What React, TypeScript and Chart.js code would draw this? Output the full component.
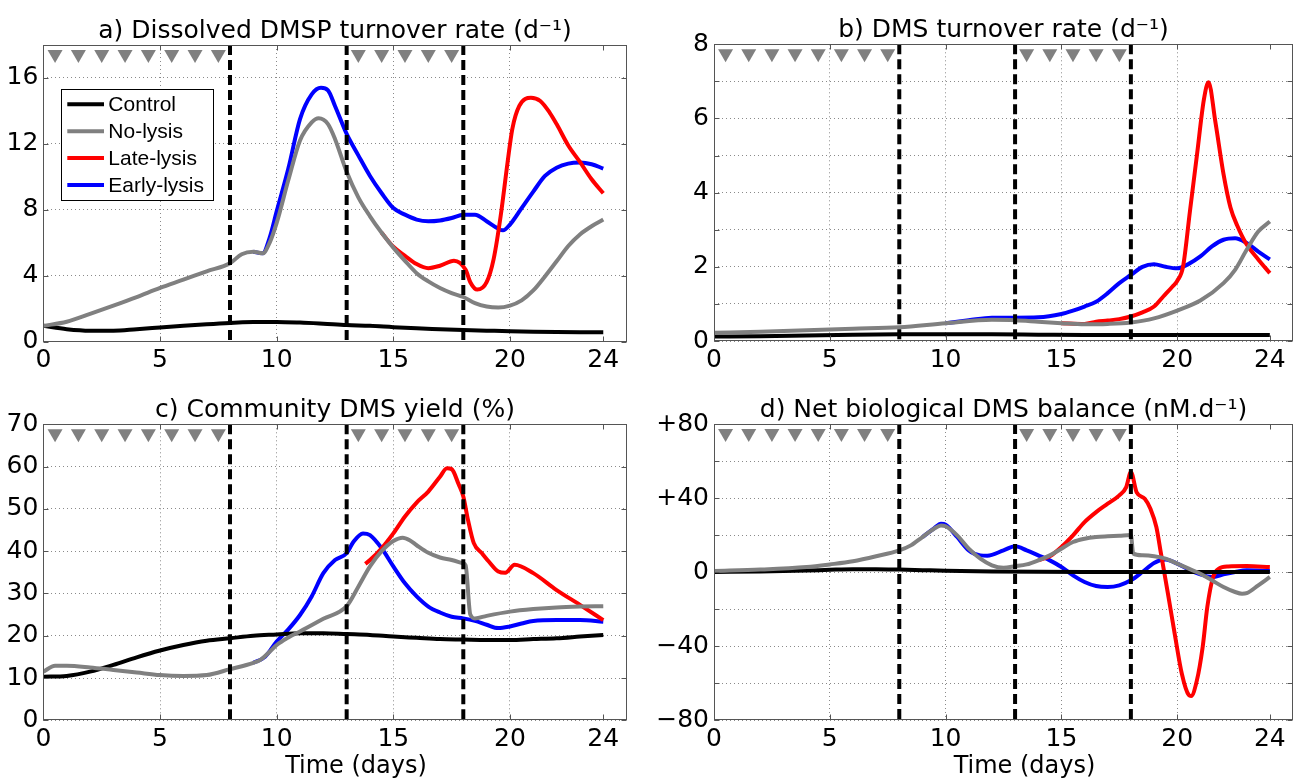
import React, { useEffect, useRef } from 'react';
import { Chart, registerables } from 'chart.js';

Chart.register(...registerables);

// ---------- shared ----------
const seriesNames = ['Control', 'No-lysis', 'Late-lysis', 'Early-lysis'];
const seriesColors = ['#000000', '#808080', '#ff0000', '#0000ff'];
const seriesOrder = [1, 0, 2, 3];
const eventDays = [8, 13, 18];
const additionDays = [0.5, 1.5, 2.5, 3.5, 4.5, 5.5, 6.5, 7.5, 13.5, 14.5, 15.5, 16.5, 17.5];
const xTickValues = [0, 5, 10, 15, 20, 24];

// ---------- panel a: dissolved DMSP turnover rate ----------
const aControlX = [0, 1, 2, 3, 4, 5, 6, 7, 8, 9, 10, 11, 12, 13, 14, 15, 16, 17, 18, 19, 20, 21, 22, 23, 24];
const aControlY = [0.95, 0.75, 0.66, 0.66, 0.75, 0.85, 0.95, 1.05, 1.13, 1.18, 1.19, 1.15, 1.08, 1.0, 0.95, 0.87, 0.8, 0.75, 0.7, 0.66, 0.62, 0.59, 0.57, 0.56, 0.56];
const aNoLysisX = [0, 1, 2, 3, 4, 5, 6, 7, 8, 8.5, 9, 9.4, 9.7, 10, 10.5, 11, 11.5, 11.8, 12.2, 12.5, 13, 13.5, 14, 14.5, 15, 15.5, 16, 16.5, 17, 17.5, 18, 18.5, 19, 19.5, 20, 20.5, 21, 21.5, 22, 22.5, 23, 23.5, 24];
const aNoLysisY = [0.95, 1.2, 1.68, 2.18, 2.7, 3.25, 3.75, 4.26, 4.75, 5.3, 5.45, 5.35, 6.0, 7.2, 9.8, 12.2, 13.3, 13.55, 13.2, 12.3, 10.3, 8.75, 7.6, 6.6, 5.7, 4.9, 4.15, 3.65, 3.25, 2.94, 2.7, 2.33, 2.12, 2.06, 2.18, 2.5, 3.1, 3.95, 4.87, 5.8, 6.5, 7.0, 7.4];
const aLateX = [14.5, 15, 15.5, 16, 16.5, 17, 17.6, 18.1, 18.3, 18.6, 19, 19.3, 19.6, 19.9, 20.1, 20.4, 20.9, 21.3, 21.7, 22, 22.5, 23, 23.5, 24];
const aLateY = [6.6, 5.75, 5.2, 4.7, 4.45, 4.6, 4.9, 4.35, 3.6, 3.15, 3.6, 5.0, 7.6, 10.9, 12.9, 14.3, 14.8, 14.6, 13.9, 13.2, 11.9, 10.9, 9.85, 9.0];
const aEarlyX = [9, 9.4, 9.7, 10, 10.5, 11, 11.5, 11.9, 12.2, 12.5, 13, 13.5, 14, 14.5, 15, 15.5, 16, 16.5, 17, 17.5, 18, 18.5, 19, 19.5, 19.7, 20, 20.5, 21, 21.5, 22, 22.5, 23, 23.5, 24];
const aEarlyY = [5.45, 5.35, 6.3, 7.9, 10.5, 13.5, 15.0, 15.4, 15.25, 14.3, 12.6, 11.3, 10.05, 9.0, 8.1, 7.7, 7.4, 7.3, 7.35, 7.5, 7.7, 7.7, 7.3, 6.85, 6.75, 7.1, 8.1, 9.1, 10.05, 10.55, 10.8, 10.86, 10.76, 10.5];

// ---------- panel b: DMS turnover rate ----------
const bControlX = [0, 2, 4, 6, 8, 10, 12, 14, 16, 18, 20, 22, 24];
const bControlY = [0.12, 0.13, 0.15, 0.17, 0.18, 0.18, 0.18, 0.17, 0.16, 0.16, 0.16, 0.16, 0.16];
const bNoLysisX = [0, 2, 4, 6, 8, 10, 12, 13, 14, 15, 16, 17, 18, 19, 20, 21, 22, 22.5, 23, 23.5, 24];
const bNoLysisY = [0.22, 0.25, 0.29, 0.33, 0.37, 0.48, 0.57, 0.56, 0.52, 0.48, 0.45, 0.46, 0.5, 0.61, 0.82, 1.09, 1.56, 1.92, 2.46, 2.95, 3.22];
const bLateX = [15, 16, 16.5, 17, 17.5, 18, 18.5, 19, 19.4, 19.8, 20, 20.25, 20.55, 20.85, 21.15, 21.35, 21.65, 22, 22.3, 22.6, 23, 23.5, 24];
const bLateY = [0.48, 0.46, 0.52, 0.55, 0.59, 0.66, 0.77, 0.93, 1.2, 1.47, 1.62, 2.0, 3.5, 5.0, 6.5, 6.98, 5.9, 4.5, 3.6, 3.1, 2.6, 2.2, 1.83];
const bEarlyX = [10, 11, 12, 13, 14, 15, 15.5, 16, 16.5, 17, 17.5, 18, 18.5, 19, 19.5, 20, 20.5, 21, 21.5, 22, 22.5, 23, 23.5, 24];
const bEarlyY = [0.48, 0.56, 0.63, 0.63, 0.64, 0.73, 0.82, 0.93, 1.06, 1.29, 1.56, 1.78, 2.0, 2.07, 2.0, 1.96, 2.08, 2.28, 2.55, 2.73, 2.77, 2.64, 2.41, 2.2];

// ---------- panel c: community DMS yield ----------
const cControlX = [0, 1, 2, 3, 4, 5, 6, 7, 8, 9, 10, 11, 12, 13, 14, 15, 16, 17, 18, 19, 20, 21, 22, 23, 24];
const cControlY = [10.3, 10.5, 11.5, 13.1, 14.9, 16.5, 17.8, 18.8, 19.4, 20.0, 20.3, 20.6, 20.6, 20.4, 20.2, 19.8, 19.5, 19.2, 19.1, 19.0, 19.0, 19.2, 19.4, 19.8, 20.2];
const cNoLysisX = [0, 0.5, 1, 2, 3, 4, 5, 6, 7, 8, 9, 9.3, 9.7, 10, 10.5, 11, 12, 13, 13.5, 14, 14.5, 15, 15.4, 15.7, 16, 16.5, 17, 17.5, 18, 18.1, 18.3, 18.5, 19, 20, 21, 22, 23, 24];
const cNoLysisY = [11.5, 12.9, 12.9, 12.5, 11.9, 11.3, 10.7, 10.5, 10.7, 12.1, 13.6, 14.3, 16.2, 17.8, 19.6, 21.0, 24.0, 27.0, 31.6, 36.4, 40.0, 42.4, 43.2, 42.6, 41.4, 39.6, 38.5, 37.9, 37.1, 36.6, 25.0, 24.1, 24.7, 25.7, 26.3, 26.7, 26.9, 27.0];
const cLateX = [13.8, 14, 14.5, 15, 15.5, 16, 16.5, 17, 17.3, 17.5, 17.8, 18, 18.2, 18.45, 18.8, 19.1, 19.5, 19.8, 20.2, 21, 22, 23, 24];
const cLateY = [37.0, 37.9, 40.7, 44.2, 48.2, 51.5, 54.1, 57.6, 59.6, 59.4, 55.8, 52.9, 47.4, 41.9, 39.5, 37.5, 35.2, 34.9, 36.8, 34.8, 30.8, 27.3, 23.7];
const cEarlyX = [9, 9.5, 10, 10.5, 11, 11.5, 12, 12.5, 13, 13.3, 13.7, 14, 14.5, 15, 15.5, 16, 16.5, 17, 17.5, 18, 18.5, 19, 19.5, 20, 20.5, 21, 22, 23, 24];
const cEarlyY = [13.6, 15.0, 18.6, 21.5, 24.9, 29.3, 34.8, 37.9, 39.5, 42.3, 44.2, 43.8, 40.7, 36.4, 32.4, 29.3, 26.9, 25.5, 24.5, 24.1, 23.5, 22.6, 21.8, 22.2, 22.9, 23.5, 23.7, 23.7, 23.3];

// ---------- panel d: net biological DMS balance ----------
const dControlX = [0, 2, 4, 5, 6, 7, 8, 9, 10, 12, 14, 16, 18, 20, 22, 24];
const dControlY = [0, 0.3, 0.8, 1.2, 1.5, 1.5, 1.3, 1.0, 0.7, 0.3, 0.1, 0, 0, 0, 0, 0];
const dNoLysisX = [0, 2, 4, 5, 6, 7, 8, 8.5, 9, 9.5, 9.8, 10, 10.5, 11, 11.5, 12, 12.5, 13, 13.5, 14, 14.5, 15, 15.5, 16, 16.5, 17, 17.5, 18, 18.1, 18.5, 19, 19.5, 20, 20.5, 21, 21.5, 22, 22.5, 22.8, 23, 23.5, 24];
const dNoLysisY = [0.5, 1.3, 2.7, 4.1, 5.8, 8.5, 11.7, 14.4, 18.9, 23.4, 25.2, 24.7, 19.8, 12.6, 7.2, 3.6, 2.3, 3.1, 4.1, 6.3, 9.0, 12.6, 16.2, 18.0, 18.9, 19.3, 19.6, 20.0, 10.0, 9.0, 8.5, 7.2, 4.5, 1.8, -0.9, -4.5, -8.1, -10.8, -11.7, -11.4, -7.2, -2.7];
const dLateX = [14, 14.5, 15, 15.5, 16, 16.5, 17, 17.5, 17.8, 18, 18.25, 18.6, 18.85, 19.1, 19.3, 19.6, 19.9, 20.2, 20.5, 20.6, 20.85, 21.1, 21.3, 21.55, 21.8, 22.2, 23, 24];
const dLateY = [6.3, 8.5, 13.5, 19.8, 27.0, 32.4, 36.9, 41.4, 45.9, 54.0, 43.0, 39.6, 34.0, 24.3, 9.9, -11.7, -34.0, -55.0, -66.5, -67.0, -58.6, -40.5, -18.9, -2.7, 1.8, 3.0, 3.2, 2.7];
const dEarlyX = [9, 9.5, 9.8, 10, 10.5, 11, 11.5, 11.8, 12.5, 13, 13.5, 14, 14.5, 15, 15.5, 16, 16.5, 17, 17.5, 18, 18.5, 19, 19.5, 20, 20.5, 21, 21.5, 22, 22.5, 23, 24];
const dEarlyY = [18.9, 23.6, 26.1, 25.6, 18.9, 11.7, 9.0, 8.8, 11.7, 13.9, 11.7, 9.0, 6.3, 2.7, -1.8, -5.4, -7.6, -8.1, -7.2, -4.5, 0, 4.9, 6.7, 4.5, 1.3, -1.3, -2.7, -1.3, 0, 0.9, 0.5];

// ---------- helpers ----------
const FONT = '"DejaVu Sans", Verdana, sans-serif';
const LEGEND_FONT = '"Liberation Sans", Arial, sans-serif';

function pts(xs: number[], ys: number[]) {
  return xs.map((x, i) => ({ x, y: ys[i] }));
}

type PanelSpec = {
  id: string;
  left: number; top: number; width: number; height: number;
  title: string;
  yMin: number; yMax: number; yStep: number;
  yLabel: (v: number) => string;
  yAxisWidth: number; padRight: number; padTop: number; xAxisHeight: number;
  legend: boolean; xTitle: boolean;
  data: { x: number[]; y: number[] }[]; // order: Control, No-lysis, Late, Early
};

const signed = (v: number) => (v === 0 ? '0' : v > 0 ? '+' + v : '\u2212' + Math.abs(v));

const panels: PanelSpec[] = [
  {
    id: 'a', left: 0, top: 0, width: 647, height: 380,
    title: 'a) Dissolved DMSP turnover rate (d\u207B\u00B9)',
    yMin: 0, yMax: 18, yStep: 2, yLabel: (v) => (v % 4 === 0 ? String(v) : ''),
    yAxisWidth: 43.4, padRight: 20.4, padTop: 45, xAxisHeight: 38.5, legend: true, xTitle: false,
    data: [
      { x: aControlX, y: aControlY }, { x: aNoLysisX, y: aNoLysisY },
      { x: aLateX, y: aLateY }, { x: aEarlyX, y: aEarlyY },
    ],
  },
  {
    id: 'b', left: 647, top: 0, width: 647, height: 380,
    title: 'b) DMS turnover rate (d\u207B\u00B9)',
    yMin: 0, yMax: 8, yStep: 1, yLabel: (v) => (v % 2 === 0 ? String(v) : ''),
    yAxisWidth: 67, padRight: 1, padTop: 44.3, xAxisHeight: 39, legend: false, xTitle: false,
    data: [
      { x: bControlX, y: bControlY }, { x: bNoLysisX, y: bNoLysisY },
      { x: bLateX, y: bLateY }, { x: bEarlyX, y: bEarlyY },
    ],
  },
  {
    id: 'c', left: 0, top: 380, width: 647, height: 400,
    title: 'c) Community DMS yield (%)',
    yMin: 0, yMax: 70, yStep: 10, yLabel: (v) => String(v),
    yAxisWidth: 43.4, padRight: 20.4, padTop: 44.3, xAxisHeight: 59.7, legend: false, xTitle: true,
    data: [
      { x: cControlX, y: cControlY }, { x: cNoLysisX, y: cNoLysisY },
      { x: cLateX, y: cLateY }, { x: cEarlyX, y: cEarlyY },
    ],
  },
  {
    id: 'd', left: 647, top: 380, width: 647, height: 400,
    title: 'd) Net biological DMS balance (nM.d\u207B\u00B9)',
    yMin: -80, yMax: 80, yStep: 20, yLabel: (v) => (v % 40 === 0 ? signed(v) : ''),
    yAxisWidth: 67, padRight: 1, padTop: 44, xAxisHeight: 60, legend: false, xTitle: true,
    data: [
      { x: dControlX, y: dControlY }, { x: dNoLysisX, y: dNoLysisY },
      { x: dLateX, y: dLateY }, { x: dEarlyX, y: dEarlyY },
    ],
  },
];

function makeDecor(spec: PanelSpec) {
  return {
    id: 'decor_' + spec.id,
    afterDatasetsDraw(chart: any) {
      const { ctx, chartArea: ca, scales } = chart;
      const x = scales.x;
      const y = scales.y;
      // dashed event lines
      ctx.save();
      ctx.beginPath();
      ctx.rect(ca.left, ca.top, ca.right - ca.left, ca.bottom - ca.top);
      ctx.clip();
      ctx.strokeStyle = '#000';
      ctx.lineWidth = 4;
      ctx.setLineDash([10, 5]);
      for (const d of eventDays) {
        const px = x.getPixelForValue(d);
        ctx.beginPath();
        ctx.moveTo(px, ca.top);
        ctx.lineTo(px, ca.bottom);
        ctx.stroke();
      }
      ctx.restore();

      // addition markers (down triangles)
      ctx.save();
      ctx.fillStyle = '#808080';
      for (const d of additionDays) {
        const px = x.getPixelForValue(d);
        const t = ca.top + 5;
        ctx.beginPath();
        ctx.moveTo(px - 7.5, t);
        ctx.lineTo(px + 7.5, t);
        ctx.lineTo(px, t + 13);
        ctx.closePath();
        ctx.fill();
      }
      ctx.restore();

      // box + inward ticks
      ctx.save();
      ctx.strokeStyle = '#555';
      ctx.lineWidth = 1;
      const L = Math.round(ca.left) + 0.5, R = Math.round(ca.right) - 0.5;
      const T = Math.round(ca.top) + 0.5, B = Math.round(ca.bottom) - 0.5;
      ctx.strokeRect(L, T, R - L, B - T);
      ctx.beginPath();
      for (const tk of y.ticks) {
        const py = Math.round(y.getPixelForValue(tk.value)) + 0.5;
        ctx.moveTo(L, py); ctx.lineTo(L + 5, py);
        ctx.moveTo(R, py); ctx.lineTo(R - 5, py);
      }
      for (const v of xTickValues) {
        const px = Math.round(x.getPixelForValue(v)) + 0.5;
        ctx.moveTo(px, B); ctx.lineTo(px, B - 5);
        ctx.moveTo(px, T); ctx.lineTo(px, T + 5);
      }
      ctx.stroke();
      ctx.restore();

      // legend box
      if (spec.legend) {
        const bx = ca.left + 17.3, by = ca.top + 44.3, bw = 151.6, bh = 111.4;
        ctx.save();
        ctx.fillStyle = '#fff';
        ctx.fillRect(bx, by, bw, bh);
        ctx.strokeStyle = '#000';
        ctx.lineWidth = 1;
        ctx.strokeRect(Math.round(bx) + 0.5, Math.round(by) + 0.5, Math.round(bw), Math.round(bh));
        ctx.font = '21px ' + LEGEND_FONT;
        ctx.textBaseline = 'middle';
        ctx.textAlign = 'left';
        chart.data.datasets.forEach((ds: any, i: number) => {
          const ry = by + 15 + i * 26.9;
          ctx.strokeStyle = ds.borderColor;
          ctx.lineWidth = 4;
          ctx.beginPath();
          ctx.moveTo(bx + 6.6, ry);
          ctx.lineTo(bx + 43.3, ry);
          ctx.stroke();
          ctx.fillStyle = '#000';
          ctx.fillText(ds.label, bx + 47.6, ry + 1);
        });
        ctx.restore();
      }
    },
    afterDraw(chart: any) {
      const { ctx, chartArea: ca } = chart;
      ctx.save();
      ctx.fillStyle = '#000';
      ctx.font = '25px ' + FONT;
      ctx.textAlign = 'center';
      ctx.textBaseline = 'alphabetic';
      ctx.fillText(spec.title, (ca.left + ca.right) / 2, ca.top - 7);
      if (spec.xTitle) {
        ctx.font = '24px ' + FONT;
        ctx.fillText('Time (days)', (ca.left + ca.right) / 2 + 21, chart.height - 7);
      }
      ctx.restore();
    },
  };
}

function Panel({ spec }: { spec: PanelSpec }) {
  const ref = useRef<HTMLCanvasElement | null>(null);
  useEffect(() => {
    if (!ref.current) return;
    const datasets = spec.data.map((s, i) => ({
      label: seriesNames[i],
      data: pts(s.x, s.y),
      borderColor: seriesColors[i],
      backgroundColor: seriesColors[i],
      borderWidth: 4,
      pointRadius: 0,
      cubicInterpolationMode: 'monotone' as const,
      order: seriesOrder[i],
      fill: false,
    }));
    const chart = new Chart(ref.current, {
      type: 'line',
      data: { datasets },
      plugins: [makeDecor(spec)],
      options: {
        animation: false,
        responsive: false,
        maintainAspectRatio: false,
        events: [],
        layout: { padding: { left: 0, right: spec.padRight, top: spec.padTop, bottom: 0 } },
        plugins: { legend: { display: false }, tooltip: { enabled: false }, title: { display: false } },
        scales: {
          x: {
            type: 'linear',
            min: 0,
            max: 25,
            afterBuildTicks: (scale: any) => {
              scale.ticks = xTickValues.map((v) => ({ value: v }));
            },
            afterFit: (scale: any) => {
              scale.height = spec.xAxisHeight;
            },
            ticks: {
              autoSkip: false,
              maxRotation: 0,
              padding: 4,
              color: '#000',
              font: { family: FONT, size: 25 },
              callback: (v: any) => String(v),
            },
            grid: {
              drawTicks: false,
              lineWidth: 1,
              color: (c: any) => (c.tick && (c.tick.value === 24 || c.tick.value === 0) ? 'rgba(0,0,0,0)' : '#8a8a8a'),
            },
            border: { display: false, dash: [1, 3] },
          },
          y: {
            type: 'linear',
            min: spec.yMin,
            max: spec.yMax,
            afterFit: (scale: any) => {
              scale.width = spec.yAxisWidth;
            },
            ticks: {
              stepSize: spec.yStep,
              padding: 5,
              color: '#000',
              font: { family: FONT, size: 25 },
              callback: (v: any) => spec.yLabel(Number(v)),
            },
            grid: { drawTicks: false, lineWidth: 1, color: '#8a8a8a' },
            border: { display: false, dash: [1, 3] },
          },
        },
      },
    } as any);
    return () => chart.destroy();
  }, [spec]);
  return (
    <canvas
      ref={ref}
      width={spec.width}
      height={spec.height}
      style={{ position: 'absolute', left: spec.left, top: spec.top, width: spec.width, height: spec.height }}
    />
  );
}

export default function App() {
  return (
    <div style={{ position: 'fixed', left: 0, top: 0, width: 1294, height: 780, background: '#fff', overflow: 'hidden' }}>
      {panels.map((p) => (
        <Panel key={p.id} spec={p} />
      ))}
    </div>
  );
}
